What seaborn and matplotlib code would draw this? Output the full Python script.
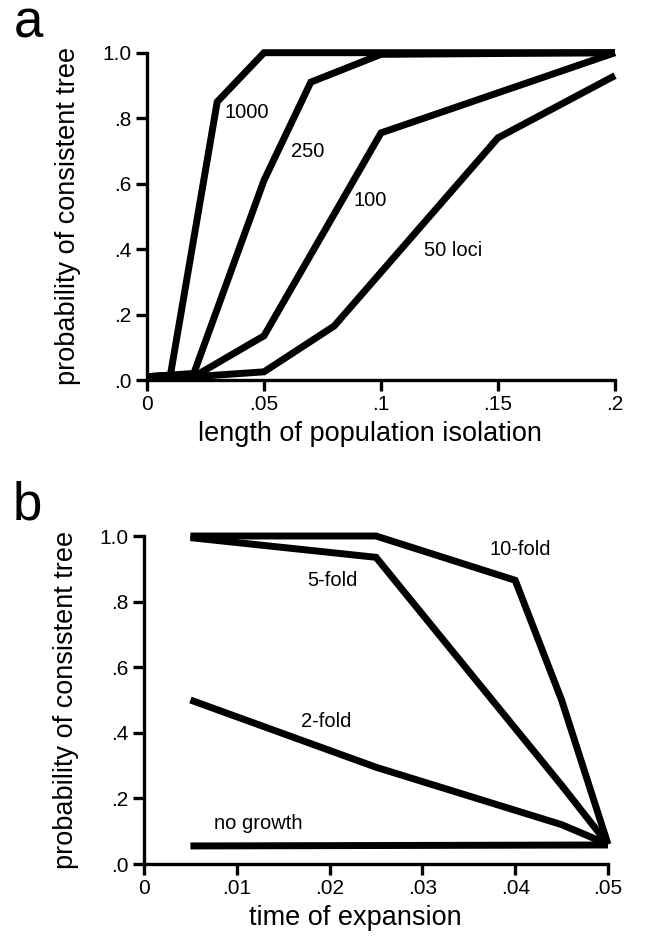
import matplotlib
matplotlib.use("Agg")
import matplotlib.pyplot as plt
import seaborn as sns
import pandas as pd

# ==========================================
# DATA
# ==========================================

# panel a - length of population isolation
x_1000 = [0, 0.01, 0.03, 0.05, 0.2]
y_1000 = [0.01, 0.015, 0.85, 1.0, 1.0]
x_250 = [0, 0.02, 0.05, 0.07, 0.1, 0.2]
y_250 = [0.01, 0.02, 0.61, 0.91, 0.995, 1.0]
x_100 = [0, 0.02, 0.05, 0.1, 0.2]
y_100 = [0.01, 0.01, 0.135, 0.755, 1.0]
x_50 = [0, 0.02, 0.05, 0.08, 0.15, 0.2]
y_50 = [0.01, 0.01, 0.025, 0.165, 0.74, 0.93]

loci_labels = ["1000", "250", "100", "50 loci"]
loci_label_x = [0.0425, 0.0685, 0.0955, 0.131]
loci_label_y = [0.817, 0.697, 0.548, 0.395]

xticks_a = [0, 0.05, 0.1, 0.15, 0.2]
xticklabels_a = ["0", ".05", ".1", ".15", ".2"]

# panel b - time of expansion
x_10fold = [0.005, 0.025, 0.04, 0.045, 0.05]
y_10fold = [1.0, 1.0, 0.865, 0.50, 0.06]
x_5fold = [0.005, 0.025, 0.045, 0.05]
y_5fold = [0.995, 0.935, 0.24, 0.06]
x_2fold = [0.005, 0.025, 0.045, 0.05]
y_2fold = [0.50, 0.295, 0.12, 0.06]
x_nogrowth = [0.005, 0.05]
y_nogrowth = [0.055, 0.058]

growth_labels = ["10-fold", "5-fold", "2-fold", "no growth"]
growth_label_x = [0.0405, 0.0203, 0.0196, 0.0123]
growth_label_y = [0.96, 0.863, 0.435, 0.122]

xticks_b = [0, 0.01, 0.02, 0.03, 0.04, 0.05]
xticklabels_b = ["0", ".01", ".02", ".03", ".04", ".05"]

yticks = [0, 0.2, 0.4, 0.6, 0.8, 1.0]
yticklabels = [".0", ".2", ".4", ".6", ".8", "1.0"]

# ==========================================
# STYLE
# ==========================================

sns.set_theme(style="ticks")
plt.rcParams["font.family"] = ["Liberation Sans", "DejaVu Sans"]
plt.rcParams["text.color"] = "black"
plt.rcParams["axes.labelcolor"] = "black"

LW = 5.0
TICK_FS = 15
LABEL_FS = 19.5
NOTE_FS = 14.5

fig = plt.figure(figsize=(6.45, 9.41), dpi=100)
ax_a = fig.add_axes([147 / 645, 1 - 380 / 941, 468 / 645, 327.3 / 941])
ax_b = fig.add_axes([144 / 645, 1 - 864 / 941, 464 / 645, 328 / 941])


def draw_line(ax, xs, ys):
    d = pd.DataFrame({"x": xs, "y": ys})
    sns.lineplot(data=d, x="x", y="y", ax=ax, color="black", lw=LW,
                 estimator=None, sort=False, clip_on=False,
                 solid_capstyle="butt", solid_joinstyle="miter")


def style_axes(ax, xticks, xticklabels, xlim, xlabel, xlabel_x):
    ax.set_xlim(*xlim)
    ax.set_ylim(0, 1.0)
    ax.set_xticks(xticks)
    ax.set_xticklabels(xticklabels)
    ax.set_yticks(yticks)
    ax.set_yticklabels(yticklabels)
    sns.despine(ax=ax)
    for s in ["left", "bottom"]:
        ax.spines[s].set_linewidth(2.4)
        ax.spines[s].set_color("black")
    ax.tick_params(axis="both", direction="out", length=8, width=2.4,
                   color="black", labelsize=TICK_FS, labelcolor="black", pad=3)
    ax.set_xlabel(xlabel, fontsize=LABEL_FS, color="black", va="top")
    ax.xaxis.set_label_coords(xlabel_x, -0.125)
    ax.set_ylabel("probability of consistent tree", fontsize=LABEL_FS,
                  color="black")
    ax.yaxis.set_label_coords(-0.14, 0.5)
    ax.set_facecolor("white")
    ax.grid(False)


# ==========================================
# PANEL A
# ==========================================

for xs, ys in [(x_1000, y_1000), (x_250, y_250), (x_100, y_100), (x_50, y_50)]:
    draw_line(ax_a, xs, ys)

for lab, lx, ly in zip(loci_labels, loci_label_x, loci_label_y):
    ax_a.text(lx, ly, lab, fontsize=NOTE_FS, ha="center", va="center",
              color="black")

style_axes(ax_a, xticks_a, xticklabels_a, (0, 0.2),
           "length of population isolation", 0.476)

# ==========================================
# PANEL B
# ==========================================

for xs, ys in [(x_10fold, y_10fold), (x_5fold, y_5fold),
               (x_2fold, y_2fold), (x_nogrowth, y_nogrowth)]:
    draw_line(ax_b, xs, ys)

for lab, lx, ly in zip(growth_labels, growth_label_x, growth_label_y):
    ax_b.text(lx, ly, lab, fontsize=NOTE_FS, ha="center", va="center",
              color="black")

style_axes(ax_b, xticks_b, xticklabels_b, (0, 0.05),
           "time of expansion", 0.456)

# panel letters
fig.text(14 / 645, 1 - 38 / 941, "a", fontsize=38, va="baseline", ha="left",
         color="black")
fig.text(13 / 645, 1 - 520 / 941, "b", fontsize=38, va="baseline", ha="left",
         color="black")

fig.savefig("out.png", dpi=100, facecolor="white")
